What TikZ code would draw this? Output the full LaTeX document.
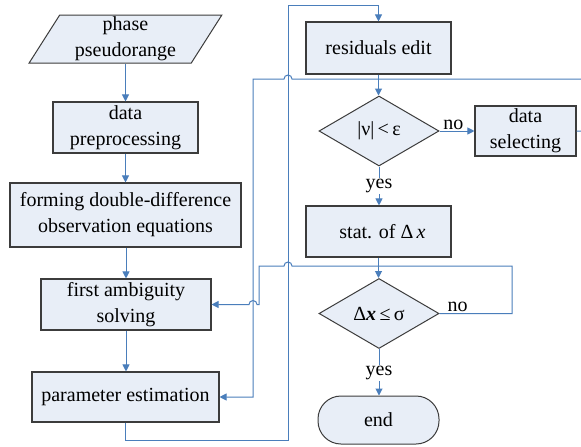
\documentclass[tikz,border=0pt]{standalone}
\usepackage{fontspec}
\setmainfont{Liberation Serif}
\usetikzlibrary{shapes.geometric,arrows.meta}
\definecolor{boxfill}{RGB}{232,238,247}
\definecolor{flowblue}{RGB}{74,126,187}
\definecolor{edgegray}{RGB}{60,60,60}
\begin{document}
\begin{tikzpicture}[x=1pt,y=-1pt,
  every node/.style={font=\fontsize{20}{26}\selectfont},
  box/.style={draw=edgegray,line width=1.1pt,fill=boxfill,rectangle,align=center,inner sep=0pt},
  dec/.style={draw=edgegray,line width=1pt,fill=boxfill,diamond,aspect=1.7,inner sep=0pt,minimum width=120pt,minimum height=70pt},
  io/.style={draw=edgegray,line width=1pt,fill=boxfill,trapezium,trapezium left angle=62,trapezium right angle=118,trapezium stretches=true,align=center,inner sep=0pt,minimum width=193pt,minimum height=48pt},
  term/.style={draw=edgegray,line width=1pt,fill=boxfill,rectangle,rounded corners=23pt,inner sep=0pt,minimum width=121pt,minimum height=48pt},
  flow/.style={draw=flowblue,line width=1pt,-{Triangle[width=7pt,length=7pt]}},
  lbl/.style={inner sep=1pt}
]
\clip (0,0) rectangle (581,447);
\fill[white] (0,0) rectangle (581,447);

\node[io] (inp) at (125.5,39) {phase\\pseudorange};
\node[box,minimum width=145pt,minimum height=51pt] (dp) at (125.5,127.5) {data\\preprocessing};
\node[box,minimum width=231pt,minimum height=64pt] (fdd) at (125.5,215) {forming double-difference\\observation equations};
\node[box,minimum width=170pt,minimum height=51pt] (fas) at (126,304.5) {first ambiguity\\solving};
\node[box,minimum width=187pt,minimum height=50pt] (pe) at (125.5,397) {parameter estimation};

\node[box,minimum width=145pt,minimum height=52pt] (re) at (378.5,48) {residuals edit};
\node[dec] (d1) at (379,131) {|ν|\,<\,ε};
\node[box,minimum width=101pt,minimum height=50pt] (ds) at (525.5,131) {data\\selecting};
\node[box,minimum width=145pt,minimum height=51pt] (st) at (378.5,231.5) {\hspace*{8pt}stat. of Δ\,\textit{x}};
\node[dec] (d2) at (379,313.5) {Δ\textbf{\textit{x}}\,≤\,σ};
\node[term] (en) at (378.5,420) {end};

% main chain
\draw[flow] (inp.center |- inp.south) -- (dp.north);
\draw[flow] (dp.south) -- (dp.south |- fdd.north);
\draw[flow] (fas.north |- fdd.south) -- (fas.north);
\draw[flow] (fas.south) -- (fas.south |- pe.north);
\draw[flow] (re.south) -- (re.south |- d1.north);
\draw[flow] (d1.east) -- node[lbl,above,pos=0.4]{no} (ds.west);
\draw[flow] (d1.south) -- node[lbl,fill=white]{yes} (d1.south |- st.north);
\draw[flow] (st.south) -- (st.south |- d2.north);
\draw[flow] (d2.south) -- node[lbl,fill=white,pos=0.52]{yes} (d2.south |- en.north);

% loop from parameter estimation to residuals edit
\draw[flow] (pe.south) -- (125.5,440) -- (288,440) -- (288,5) -- (378.5,5) -- (re.north);

% loop from data selecting to parameter estimation
\draw[flow] (ds.east) -- (585,131) -- (585,79) -- (292,79)
  arc[start angle=0,end angle=180,radius=4pt] -- (253,79) -- (253,397) -- (pe.east);

% loop from second decision back to first ambiguity solving
\draw[flow] (d2.east) -- node[lbl,above,pos=0.25]{no} (512,313.5) -- (512,266) -- (292,266)
  arc[start angle=0,end angle=180,radius=4pt] -- (259,266) -- (259,304.5) -- (257,304.5)
  arc[start angle=0,end angle=180,radius=4pt] -- (fas.east);
\end{tikzpicture}
\end{document}
